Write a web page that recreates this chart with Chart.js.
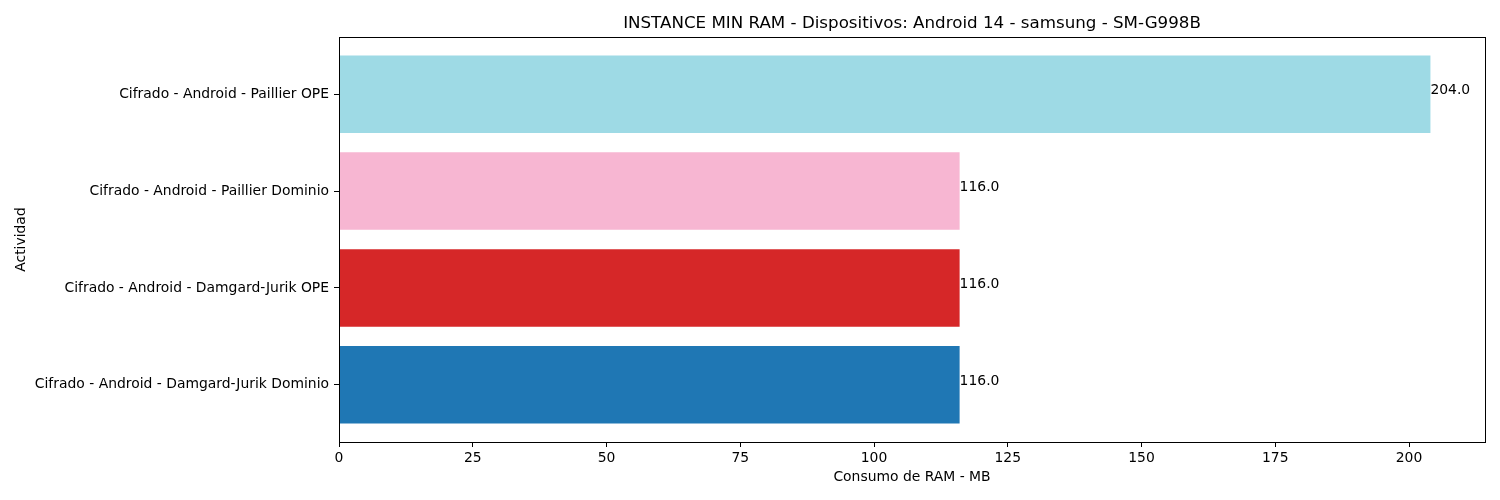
<!DOCTYPE html>
<html>
<head>
<meta charset="utf-8">
<script src="https://cdn.jsdelivr.net/npm/chart.js@4.4.1/dist/chart.umd.min.js"></script>
<style>
  html, body { margin: 0; padding: 0; background: #fff; }
  #wrap { width: 1500px; height: 500px; }
</style>
</head>
<body>
<div id="wrap"><canvas id="chart"></canvas></div>
<script>
// top to bottom
const categories = [
  "Cifrado - Android - Paillier OPE",
  "Cifrado - Android - Paillier Dominio",
  "Cifrado - Android - Damgard-Jurik OPE",
  "Cifrado - Android - Damgard-Jurik Dominio",
];
const ramValues = [204.0, 116.0, 116.0, 116.0];
const barColors = ["#9edae5", "#f7b6d2", "#d62728", "#1f77b4"];
const xTicks = [0, 25, 50, 75, 100, 125, 150, 175, 200];

const FONT = "'DejaVu Sans', sans-serif";
Chart.defaults.font.family = FONT;
Chart.defaults.color = "#000";

const frame = {
  id: "frame",
  afterDatasetsDraw(chart) {
    const { ctx, chartArea: a, scales } = chart;
    ctx.save();
    // value labels, baseline at bar center like matplotlib text
    ctx.font = "13.9px " + FONT;
    ctx.fillStyle = "#000";
    ctx.textAlign = "left";
    ctx.textBaseline = "alphabetic";
    ramValues.forEach((v, i) => {
      ctx.fillText(v.toFixed(1), scales.x.getPixelForValue(v), scales.y.getPixelForValue(i));
    });
    // box around the axes
    ctx.strokeStyle = "#000";
    ctx.lineWidth = 1;
    ctx.strokeRect(Math.round(a.left) + 0.5, Math.round(a.top) + 0.5,
      Math.round(a.right - a.left), Math.round(a.bottom - a.top));
    ctx.restore();
  }
};

new Chart(document.getElementById("chart"), {
  type: "bar",
  data: {
    datasets: [{
      data: ramValues.map((v, i) => ({ x: v, y: i })),
      backgroundColor: barColors,
      borderWidth: 0,
      categoryPercentage: 1,
      barPercentage: 0.8,
    }],
  },
  options: {
    indexAxis: "y",
    responsive: true,
    maintainAspectRatio: false,
    animation: false,
    layout: { padding: { left: 0, right: 15, top: 0, bottom: 0 } },
    plugins: {
      legend: { display: false },
      tooltip: { enabled: false },
      title: {
        display: true,
        fullSize: false,
        text: "INSTANCE MIN RAM - Dispositivos: Android 14 - samsung - SM-G998B",
        font: { size: 16.7, weight: "normal" },
        color: "#000",
        padding: { top: 14, bottom: 3 },
      },
    },
    scales: {
      x: {
        type: "linear",
        min: 0,
        max: 214.2,
        afterBuildTicks: (s) => { s.ticks = xTicks.map((v) => ({ value: v })); },
        afterFit: (s) => { s.height = 58; },
        ticks: { font: { size: 13.9 }, padding: 3, maxRotation: 0 },
        grid: { drawOnChartArea: false, tickLength: 5, color: "#000" },
        border: { color: "#000", width: 1 },
        title: {
          display: true,
          text: "Consumo de RAM - MB",
          font: { size: 13.9 },
          padding: { top: 0, bottom: 14 },
        },
      },
      y: {
        type: "linear",
        bounds: "data",
        offset: false,
        min: -0.59,
        max: 3.59,
        reverse: true,
        afterBuildTicks: (s) => { s.ticks = categories.map((_, i) => ({ value: i })); },
        afterFit: (s) => { s.width = 339; },
        ticks: {
          font: { size: 13.9 },
          padding: 5,
          callback: (v) => categories[v],
        },
        grid: { offset: false, drawOnChartArea: false, tickLength: 5, color: "#000" },
        border: { color: "#000", width: 1 },
        title: {
          display: true,
          text: "Actividad",
          font: { size: 13.9 },
          padding: { top: 13, bottom: 0 },
        },
      },
    },
  },
  plugins: [frame],
});
</script>
</body>
</html>
